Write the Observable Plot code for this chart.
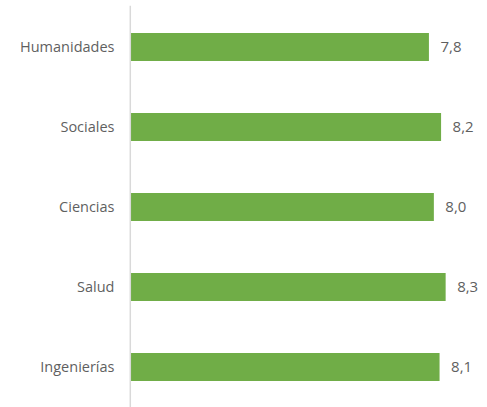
<!DOCTYPE html>
<html>
<head>
<meta charset="utf-8">
<script src="https://cdn.jsdelivr.net/npm/d3@7"></script>
<script src="https://cdn.jsdelivr.net/npm/@observablehq/plot@0.6"></script>
<style>
  html, body { margin: 0; padding: 0; background: #fff; overflow: hidden; }
  #chart svg { display: block; }
</style>
</head>
<body>
<div id="chart"></div>
<script>
const categories = ["Humanidades", "Sociales", "Ciencias", "Salud", "Ingenierías"];
const values = [7.84, 8.16, 7.97, 8.28, 8.12];
const data = categories.map((c, i) => ({category: c, value: values[i]}));
const fmt = v => v.toFixed(1).replace(".", ",");

const chart = Plot.plot({
  width: 487,
  height: 407,
  marginLeft: 131,
  marginRight: 14,
  marginTop: 7.4,
  marginBottom: 0,
  style: {fontFamily: "'Open Sans', sans-serif", background: "#fff"},
  x: {domain: [0, 9], axis: null},
  y: {domain: categories, paddingInner: 0.6533, paddingOuter: 0.301, axis: null},
  marks: [
    Plot.barX(data, {x: "value", y: "category", fill: "#70AD47"}),
    Plot.ruleX([0], {stroke: "#d9d9d9", strokeWidth: 1.5, dx: -1.2, insetTop: -1.7}),
    Plot.axisY({tickSize: 0, tickPadding: 17, label: null, fontSize: 14.5, color: "#5f5f5f", style: {letterSpacing: "1.1px"}}),
    Plot.text(data, {x: "value", y: "category", text: d => fmt(d.value), dx: 11, textAnchor: "start", fill: "#5f5f5f", fontSize: 15, style: {letterSpacing: "1px"}})
  ]
});
document.getElementById("chart").appendChild(chart);
</script>
</body>
</html>
